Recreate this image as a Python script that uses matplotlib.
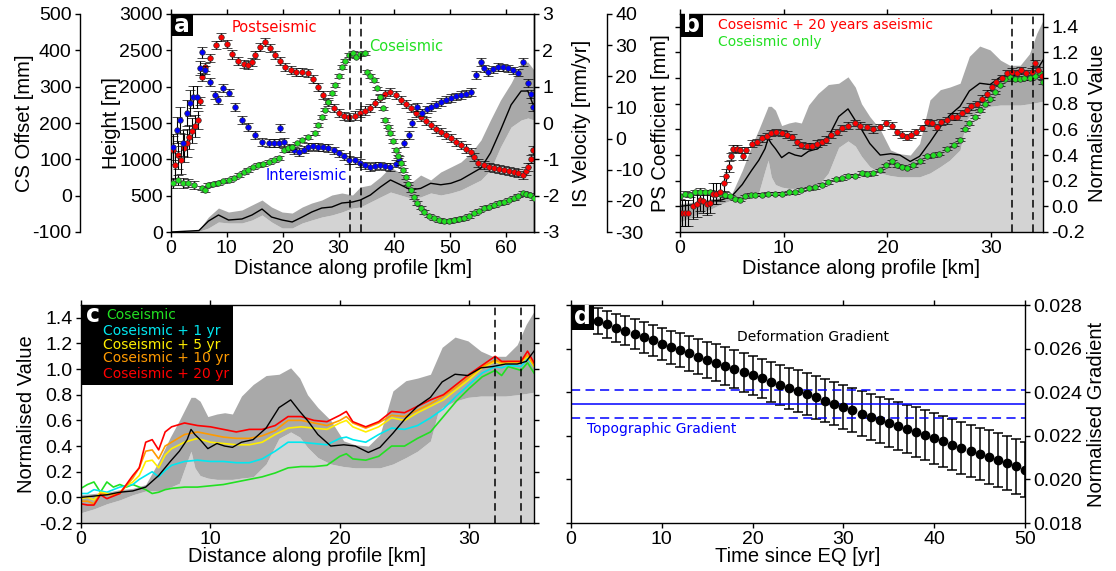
import matplotlib
matplotlib.use("Agg")
import matplotlib.pyplot as plt
from matplotlib.patches import Rectangle

plt.rcParams["font.family"] = ["Liberation Sans", "DejaVu Sans"]
plt.rcParams["font.size"] = 14.5
plt.rcParams["axes.unicode_minus"] = False
plt.rcParams["axes.linewidth"] = 1.0
plt.rcParams["axes.labelsize"] = 14.5
plt.rcParams["xtick.major.width"] = 1.0
plt.rcParams["ytick.major.width"] = 1.0
plt.rcParams["xtick.major.size"] = 3.5
plt.rcParams["ytick.major.size"] = 3.5
plt.rcParams["xtick.major.pad"] = 2.5
plt.rcParams["ytick.major.pad"] = 2.5
plt.rcParams["xtick.labelsize"] = 14
plt.rcParams["ytick.labelsize"] = 14

ANNOT = ["DejaVu Sans"]

# ---------------------------------------------------------------- colours
LIGHT = "#d3d3d3"
DARK = "#a9a9a9"
C_RED = "#ff0000"
C_BLUE = "#0000ff"
C_GREEN = "#22e022"
C_CYAN = "#00e8f0"
C_YELLOW = "#ffee00"
C_ORANGE = "#ff9a00"

# ---------------------------------------------------------------- panel a
# topography statistics along the 65 km profile [m]
a_topo_km = [0, 5, 6.7, 8.5, 10.3, 12.7, 14.5, 16.3, 18, 19.9,
             21.7, 23.5, 25.2, 27, 28.8, 30.6, 32.5, 33.9, 35.7, 37.5,
             39.3, 41.1, 42.9, 44.7, 46.5, 48.3, 50.1, 51.9, 53.7, 55.5,
             57.2, 59, 60.9, 62.7, 63.9, 65]
a_topo_mean = [0, 20, 150, 234, 165, 179, 234, 316, 206, 165,
               138, 206, 275, 330, 344, 399, 413, 440, 509, 619,
               716, 650, 580, 600, 670, 650, 670, 720, 800, 880,
               1087, 1400, 1750, 1940, 1940, 1720]
a_topo_hi = [0, 30, 206, 330, 275, 303, 372, 440, 344, 275,
             261, 344, 399, 440, 509, 537, 509, 619, 647, 757,
             894, 812, 674, 784, 716, 826, 894, 963, 1087, 1266,
             1541, 1816, 2050, 2325, 2339, 2229]
a_topo_lo = [0, 10, 55, 138, 124, 124, 165, 234, 138, 55,
             55, 124, 165, 206, 234, 275, 330, 344, 413, 482,
             550, 509, 468, 482, 537, 509, 537, 578, 647, 716,
             853, 1170, 1445, 1541, 1569, 1541]

# postseismic coefficient [mm]
a_ps_km = [0.3, 0.8, 1.3, 1.8, 2.3, 2.8, 3.3, 3.8, 4.3, 4.8,
           5.2, 5.6, 6.0, 7.0, 8.0, 9.0, 10.0, 11.0, 12.0, 13.0,
           13.8, 14.5, 15.1, 16.0, 16.9, 17.8, 18.7, 19.6, 20.5, 21.4,
           22.3, 23.5, 24.6, 25.5, 26.4, 27.3, 28.2, 29.1, 30.0, 30.9,
           31.8, 32.9, 33.9, 34.8, 35.7, 36.6, 37.5, 38.4, 39.3, 40.2,
           41.1, 42.0, 42.9, 43.8, 44.7, 45.6, 46.5, 47.4, 48.3, 49.2,
           50.1, 51.0, 51.9, 52.8, 53.7, 54.3, 54.9, 56.0, 57.0, 57.8,
           58.7, 59.6, 60.5, 61.4, 62.2, 63.0, 63.5, 63.9, 64.4, 64.8]
a_ps = [-3.7, -8.5, -5.3, -6.9, -3.0, -1.4, 0.5, 2.5, 4.0, 6.0,
        12.0, 19.8, 23.0, 26.0, 30.0, 32.5, 30.5, 27.0, 25.0, 24.0,
        23.6, 24.5, 26.8, 29.5, 31.1, 29.0, 26.8, 24.8, 23.0, 22.0,
        21.4, 21.5, 21.1, 19.0, 16.6, 14.0, 11.7, 9.8, 8.2, 7.2,
        6.9, 7.4, 8.2, 9.0, 9.8, 11.3, 13.0, 14.2, 15.0, 14.0,
        12.4, 11.0, 9.8, 8.3, 6.9, 5.6, 4.4, 3.2, 2.1, 1.1,
        0.2, -1.0, -2.1, -3.2, -4.3, -5.8, -7.8, -8.5, -9.0, -9.5,
        -9.8, -10.1, -10.4, -10.7, -11.0, -11.7, -10.5, -9.1, -6.5, -3.7]
a_ps_err = [4.5, 4.5, 4.5, 4.5, 4.5, 4.5, 4.0, 4.0, 3.5, 3.0] + [1.3] * 70

# interseismic velocity [mm/yr]
a_is_km = [0.4, 1.0, 1.6, 2.2, 2.8, 3.4, 4.0, 4.6, 5.2, 5.5,
           6.1, 7.0, 7.9, 8.5, 9.4, 10.3, 11.5, 12.7, 13.8, 15.1,
           16.3, 17.5, 18.4, 19.3, 19.6, 20.2, 21.1, 22.0, 22.9, 23.8,
           24.6, 25.5, 26.4, 27.3, 28.2, 29.1, 30.0, 30.9, 31.8, 32.9,
           33.9, 34.8, 35.7, 36.6, 37.5, 38.4, 39.3, 40.2, 40.8, 41.7,
           42.6, 43.2, 44.1, 45.0, 45.8, 46.5, 47.4, 48.3, 49.2, 50.1,
           51.0, 51.9, 52.8, 53.7, 54.6, 55.5, 56.1, 56.7, 57.6, 58.5,
           59.4, 60.3, 61.2, 62.1, 63.0, 63.9, 64.4, 64.8]
a_is = [-0.66, -0.19, 0.08, -0.55, 0.28, 0.55, 0.72, 0.72, 1.51, 1.95,
        1.46, 1.13, 0.77, 0.63, 0.96, 0.83, 0.44, 0.08, -0.11, -0.33,
        -0.52, -0.55, -0.55, -0.55, -0.14, -0.52, -0.69, -0.75, -0.80, -0.73,
        -0.66, -0.64, -0.66, -0.67, -0.69, -0.75, -0.83, -0.92, -1.02, -1.03,
        -1.10, -1.16, -1.21, -1.18, -1.16, -1.19, -1.21, -1.12, -1.02, -0.55,
        -0.33, 0.0, 0.44, 0.28, 0.38, 0.44, 0.50, 0.58, 0.64, 0.69,
        0.73, 0.77, 0.81, 0.85, 1.32, 1.68, 1.50, 1.40, 1.48, 1.54,
        1.53, 1.51, 1.45, 1.38, 1.68, 1.10, 0.80, 0.44]
a_is_err = [0.35, 0.35, 0.35, 0.35, 0.35, 0.35, 0.3, 0.3, 0.2, 0.15] + [0.1] * 68

# coseismic offset [mm]
a_cs_km = [0.4, 1.3, 2.2, 3.0, 4.2, 5.5, 6.1, 6.7, 7.6, 8.5,
           9.4, 10.3, 11.2, 12.1, 13.0, 13.8, 14.7, 15.6, 16.5, 17.5,
           18.4, 19.3, 20.2, 21.0, 21.7, 22.6, 23.5, 24.6, 25.8, 26.4,
           27.0, 27.6, 28.2, 28.8, 29.4, 30.0, 30.6, 31.2, 31.8, 32.5,
           33.2, 33.9, 34.8, 35.1, 35.7, 36.3, 36.9, 37.5, 38.0, 38.4,
           38.9, 39.3, 39.8, 40.2, 40.7, 41.1, 41.6, 42.0, 42.5, 42.9,
           43.5, 44.1, 44.7, 45.3, 46.2, 47.1, 48.0, 48.9, 49.8, 50.6,
           51.5, 52.4, 53.3, 54.2, 55.1, 56.0, 56.9, 57.8, 58.7, 59.6,
           60.5, 61.4, 62.2, 63.0, 63.6, 64.2, 65.0]
a_cs = [35, 43, 35, 35, 29, 21, 16, 29, 32, 35,
        39, 43, 50, 57, 64, 71, 78, 84, 88, 93,
        98, 104, 126, 130, 134, 144, 153, 161, 172, 195,
        216, 237, 258, 282, 305, 330, 354, 372, 387, 392,
        383, 390, 393, 340, 330, 318, 295, 272, 240, 208,
        190, 172, 150, 126, 108, 90, 70, 51, 33, 16,
        -3, -20, -33, -45, -55, -62, -67, -70, -69, -67,
        -65, -62, -56, -48, -41, -34, -30, -26, -21, -17,
        -11, -6, 0, 7, 5, 2, -6]
a_cs_err = [15, 15, 15, 12, 10] + [5] * 82

# ---------------------------------------------------------------- panels b & c
# normalised topography statistics along the first 35 km
bc_topo_km = [0, 1, 2, 3, 4, 5, 6, 6.9, 7.6, 8.2,
              8.5, 8.8, 9.2, 9.8, 10.5, 11.1, 11.7, 12.4, 13.3, 14.3,
              15.3, 16.2, 16.9, 17.5, 18.3, 19.3, 20.3, 21.2, 22.2, 23.1,
              24.1, 25.1, 26.0, 27.0, 27.6, 27.9, 28.9, 29.9, 30.9, 31.8,
              32.8, 33.7, 34.4, 35.0]
bc_topo_mean = [0.00, 0.01, 0.02, 0.04, 0.05, 0.08, 0.17, 0.28, 0.36, 0.45,
                0.53, 0.49, 0.45, 0.38, 0.42, 0.40, 0.39, 0.43, 0.45, 0.54,
                0.70, 0.76, 0.67, 0.60, 0.49, 0.40, 0.41, 0.40, 0.35, 0.39,
                0.50, 0.62, 0.71, 0.78, 0.86, 0.90, 0.96, 0.95, 1.01, 1.02,
                1.04, 1.04, 1.06, 1.14]
bc_topo_hi = [0.02, 0.03, 0.04, 0.06, 0.07, 0.10, 0.28, 0.47, 0.60, 0.72,
              0.78, 0.78, 0.75, 0.63, 0.65, 0.66, 0.65, 0.79, 0.88, 0.95,
              0.96, 1.01, 0.93, 0.80, 0.70, 0.60, 0.44, 0.41, 0.40, 0.49,
              0.83, 0.91, 0.93, 0.96, 1.10, 1.17, 1.25, 1.22, 1.14, 1.10,
              1.10, 1.19, 1.35, 1.45]
bc_topo_lo = [-0.12, -0.09, -0.05, -0.02, 0.02, 0.05, 0.05, 0.08, 0.11, 0.28,
              0.36, 0.23, 0.17, 0.15, 0.14, 0.14, 0.14, 0.15, 0.16, 0.26,
              0.46, 0.51, 0.47, 0.39, 0.31, 0.26, 0.24, 0.23, 0.23, 0.23,
              0.26, 0.31, 0.36, 0.44, 0.67, 0.70, 0.75, 0.78, 0.79, 0.79,
              0.79, 0.80, 0.81, 0.82]

# panel b: coseismic + 20 years aseismic
b_red_km = [0.2, 0.5, 0.8, 1.3, 1.6, 1.9, 2.25, 2.6, 2.9, 3.2,
            3.5, 3.9, 4.2, 4.4, 4.7, 4.9, 5.1, 5.5, 5.8, 6.1,
            6.4, 6.9, 7.4, 7.9, 8.4, 8.8, 9.3, 9.8, 10.3, 10.8,
            11.3, 11.7, 12.2, 12.7, 13.2, 13.7, 14.1, 14.6, 15.1, 15.6,
            16.2, 16.9, 17.4, 18.0, 18.6, 19.3, 19.9, 20.4, 20.9, 21.4,
            21.9, 22.3, 22.8, 23.3, 23.8, 24.3, 24.8, 25.2, 25.7, 26.2,
            26.7, 27.2, 27.7, 28.1, 28.6, 29.1, 29.6, 30.1, 30.5, 31.0,
            31.5, 32.0, 32.5, 32.9, 33.4, 33.9, 34.2, 34.5, 34.9]
b_red = [-0.05, -0.05, -0.05, 0.00, 0.02, 0.05, 0.04, 0.02, 0.03, 0.10,
         0.10, 0.11, 0.18, 0.24, 0.31, 0.39, 0.45, 0.45, 0.44, 0.39,
         0.44, 0.49, 0.50, 0.53, 0.55, 0.57, 0.58, 0.57, 0.56, 0.54,
         0.50, 0.48, 0.47, 0.47, 0.49, 0.50, 0.52, 0.56, 0.58, 0.61,
         0.63, 0.65, 0.63, 0.62, 0.60, 0.62, 0.65, 0.63, 0.58, 0.56,
         0.54, 0.56, 0.58, 0.61, 0.66, 0.65, 0.62, 0.66, 0.67, 0.70,
         0.70, 0.73, 0.75, 0.78, 0.80, 0.84, 0.88, 0.93, 0.97, 1.00,
         1.04, 1.05, 1.04, 1.06, 1.04, 1.05, 1.12, 1.06, 1.02]
b_red_err = [0.10, 0.10, 0.10, 0.10, 0.10, 0.09, 0.09, 0.09, 0.08, 0.08,
             0.08, 0.07, 0.06, 0.05, 0.04] + [0.025] * 64

# panel b: coseismic only
b_green_km = [0, 0.5, 1, 1.4, 1.9, 2.4, 2.9, 3.4, 3.9, 4.3,
              4.8, 5.3, 5.8, 6.3, 6.8, 7.2, 7.9, 8.5, 9.2, 9.8,
              10.5, 11.1, 11.7, 12.4, 13.0, 13.7, 14.3, 15.0, 15.6, 16.2,
              16.9, 17.5, 18.0, 18.6, 19.3, 19.9, 20.4, 20.9, 21.4, 21.9,
              22.5, 23.1, 23.8, 24.4, 25.0, 25.7, 26.4, 27.0, 27.5, 27.9,
              28.4, 28.9, 29.4, 29.9, 30.4, 30.9, 31.3, 31.8, 32.3, 32.8,
              33.2, 33.7, 34.2, 34.7, 35.0]
b_green = [0.08, 0.10, 0.09, 0.11, 0.11, 0.11, 0.11, 0.10, 0.10, 0.09,
           0.08, 0.06, 0.05, 0.08, 0.09, 0.09, 0.09, 0.10, 0.10, 0.10,
           0.11, 0.11, 0.13, 0.14, 0.15, 0.17, 0.19, 0.21, 0.22, 0.24,
           0.24, 0.26, 0.25, 0.26, 0.28, 0.32, 0.35, 0.32, 0.31, 0.30,
           0.32, 0.35, 0.39, 0.40, 0.41, 0.45, 0.48, 0.52, 0.60, 0.65,
           0.70, 0.75, 0.80, 0.84, 0.89, 0.95, 0.99, 1.01, 0.99, 0.99,
           1.00, 1.00, 1.02, 1.04, 0.97]
b_green_err = [0.02] * 10 + [0.012] * 55

# panel c: normalised deformation for several time spans
c_km = [0, 0.5, 1, 1.5, 2, 2.5, 3, 3.5, 4, 4.5,
        5, 5.5, 6, 6.5, 7, 8, 9, 10, 11, 12,
        13, 14, 15, 16, 17, 18, 19, 20, 20.5, 21,
        22, 23, 24, 25, 26, 27, 28, 29, 30, 31,
        32, 32.5, 33, 34, 34.5, 35]
c_cos = [0.07, 0.10, 0.12, 0.04, 0.12, 0.08, 0.10, 0.08, 0.10, 0.08,
         0.06, 0.03, 0.04, 0.06, 0.07, 0.08, 0.08, 0.09, 0.10, 0.12,
         0.14, 0.16, 0.19, 0.23, 0.24, 0.24, 0.25, 0.32, 0.34, 0.30,
         0.29, 0.32, 0.40, 0.40, 0.46, 0.51, 0.63, 0.75, 0.85, 0.94,
         0.99, 0.95, 1.02, 0.99, 1.05, 0.97]
c_1yr = [0.03, 0.03, 0.06, 0.05, 0.04, 0.06, 0.08, 0.09, 0.10, 0.14,
         0.17, 0.20, 0.16, 0.21, 0.25, 0.28, 0.29, 0.28, 0.28, 0.27,
         0.27, 0.30, 0.36, 0.43, 0.43, 0.42, 0.41, 0.46, 0.47, 0.45,
         0.43, 0.49, 0.54, 0.53, 0.56, 0.62, 0.69, 0.79, 0.88, 0.97,
         1.02, 1.01, 1.03, 1.02, 1.08, 1.02]
c_5yr = [-0.01, 0.00, -0.02, 0.04, 0.03, 0.02, 0.04, 0.09, 0.12, 0.17,
         0.28, 0.29, 0.23, 0.33, 0.38, 0.43, 0.46, 0.43, 0.42, 0.41,
         0.41, 0.43, 0.49, 0.54, 0.55, 0.54, 0.53, 0.58, 0.60, 0.55,
         0.51, 0.55, 0.62, 0.60, 0.66, 0.71, 0.76, 0.84, 0.92, 1.01,
         1.06, 1.04, 1.05, 1.05, 1.10, 1.02]
c_10yr = [-0.03, -0.03, -0.05, 0.03, 0.02, 0.02, 0.03, 0.09, 0.15, 0.23,
          0.36, 0.37, 0.30, 0.40, 0.43, 0.49, 0.51, 0.49, 0.47, 0.46,
          0.46, 0.48, 0.52, 0.60, 0.60, 0.58, 0.56, 0.60, 0.63, 0.58,
          0.54, 0.58, 0.64, 0.63, 0.68, 0.73, 0.79, 0.86, 0.94, 1.02,
          1.07, 1.05, 1.06, 1.06, 1.11, 1.03]
c_20yr = [-0.05, -0.06, -0.06, 0.02, -0.01, 0.01, 0.03, 0.10, 0.17, 0.23,
          0.43, 0.45, 0.37, 0.51, 0.55, 0.58, 0.56, 0.55, 0.53, 0.51,
          0.53, 0.53, 0.56, 0.63, 0.63, 0.60, 0.59, 0.64, 0.67, 0.59,
          0.55, 0.59, 0.67, 0.66, 0.71, 0.76, 0.80, 0.88, 0.96, 1.03,
          1.10, 1.06, 1.06, 1.06, 1.14, 1.05]

fault_km = [32, 34]

# ---------------------------------------------------------------- panel d
d_years = list(range(3, 51))
d_grad = [0.02727, 0.02711, 0.02696, 0.02682, 0.02667, 0.02652, 0.02638, 0.02622,
          0.02607, 0.02594, 0.02578, 0.02563, 0.02549, 0.02535, 0.02520, 0.02506,
          0.02491, 0.02477, 0.02463, 0.02448, 0.02434, 0.02419, 0.02405, 0.02390,
          0.02376, 0.02361, 0.02347, 0.02333, 0.02318, 0.02302, 0.02287, 0.02273,
          0.02259, 0.02244, 0.02231, 0.02217, 0.02202, 0.02188, 0.02174, 0.02160,
          0.02145, 0.02131, 0.02117, 0.02103, 0.02089, 0.02074, 0.02060, 0.02045]
d_err = [0.00061, 0.00063, 0.00065, 0.00067, 0.00069, 0.00071, 0.00072, 0.00074,
         0.00076, 0.00078, 0.00079, 0.00081, 0.00083, 0.00084, 0.00086, 0.00087,
         0.00089, 0.00090, 0.00091, 0.00092, 0.00093, 0.00094, 0.00095, 0.00096,
         0.00097, 0.00098, 0.00099, 0.00100, 0.00102, 0.00104, 0.00105, 0.00107,
         0.00109, 0.00110, 0.00112, 0.00113, 0.00115, 0.00116, 0.00117, 0.00118,
         0.00119, 0.00120, 0.00121, 0.00122, 0.00123, 0.00124, 0.00125, 0.00126]
topo_grad = 0.02346
topo_grad_err = 0.00066

# ---------------------------------------------------------------- figure
W, H = 1116, 571
fig = plt.figure(figsize=(W / 100, H / 100), dpi=100)


def box(left, top, right, bottom):
    return [left / W, 1 - bottom / H, (right - left) / W, (bottom - top) / H]


def panel_tag(ax, letter, wpx, hpx):
    bb = ax.get_position()
    w = wpx / (bb.width * W)
    h = hpx / (bb.height * H)
    ax.add_patch(Rectangle((0, 1 - h), w, h, transform=ax.transAxes,
                           facecolor="black", edgecolor="none", zorder=20,
                           clip_on=False))
    ax.text(w / 2, 1 - h / 2, letter, transform=ax.transAxes, color="white",
            fontsize=17, fontweight="bold", ha="center", va="center",
            family=ANNOT, zorder=21)


def only_spine(ax, name):
    for s in ("left", "right", "top", "bottom"):
        ax.spines[s].set_visible(s == name)


EB = dict(fmt="o", ms=4, mew=0.5, mec="#333333", ecolor="black",
          elinewidth=0.8, capsize=3.5, capthick=0.8)
DASH = dict(color="black", lw=1.1, ls=(0, (5, 3)), zorder=10)

# ---- panel a
ax_a = fig.add_axes(box(171, 14, 534, 232))
ax_a.fill_between(a_topo_km, 0, a_topo_lo, color=LIGHT, lw=0)
ax_a.fill_between(a_topo_km, a_topo_lo, a_topo_hi, color=DARK, lw=0)
ax_a.plot(a_topo_km, a_topo_mean, color="black", lw=1)
ax_a.set_xlim(0, 65)
ax_a.set_ylim(0, 3000)
ax_a.set_xticks(range(0, 61, 10))
ax_a.set_yticks(range(0, 3001, 500))
ax_a.set_ylabel("Height [m]", labelpad=-1)
ax_a.set_xlabel("Distance along profile [km]", labelpad=1)
ax_a.tick_params(axis="x", top=True)
ax_a.tick_params(axis="y", right=False)

ax_ps = ax_a.twinx()
only_spine(ax_ps, "right")
ax_ps.spines["right"].set_position(("axes", 1 + 73 / 363))
ax_ps.set_ylim(-30, 40)
ax_ps.set_yticks(range(-30, 41, 10))
ax_ps.set_ylabel("PS Coefficient [mm]", labelpad=5)
ax_ps.errorbar(a_ps_km, a_ps, yerr=a_ps_err, color=C_RED, **EB)

ax_is = ax_a.twinx()
only_spine(ax_is, "right")
ax_is.set_ylim(-3, 3)
ax_is.set_yticks(range(-3, 4))
ax_is.set_ylabel("IS Velocity [mm/yr]", labelpad=9)
ax_is.errorbar(a_is_km, a_is, yerr=a_is_err, color=C_BLUE, **EB)

ax_cs = ax_a.twinx()
only_spine(ax_cs, "left")
ax_cs.spines["left"].set_position(("axes", -91 / 363))
ax_cs.yaxis.set_ticks_position("left")
ax_cs.yaxis.set_label_position("left")
ax_cs.set_ylim(-100, 500)
ax_cs.set_yticks(range(-100, 501, 100))
ax_cs.set_ylabel("CS Offset [mm]", labelpad=-1)
ax_cs.errorbar(a_cs_km, a_cs, yerr=a_cs_err, color=C_GREEN, **EB)
for xf in fault_km:
    ax_cs.axvline(xf, **DASH)

ax_cs.text(0.286, 0.936, "Postseismic", transform=ax_cs.transAxes,
           color=C_RED, fontsize=10.5, ha="center", va="center", family=ANNOT)
ax_cs.text(0.648, 0.853, "Coseismic", transform=ax_cs.transAxes,
           color=C_GREEN, fontsize=10.5, ha="center", va="center", family=ANNOT)
ax_cs.text(0.372, 0.261, "Intereismic", transform=ax_cs.transAxes,
           color=C_BLUE, fontsize=10.5, ha="center", va="center", family=ANNOT)
panel_tag(ax_cs, "a", 22, 22)

# ---- panel b
ax_b = fig.add_axes(box(680, 14, 1043, 232))
ax_b.fill_between(bc_topo_km, -0.2, bc_topo_lo, color=LIGHT, lw=0)
ax_b.fill_between(bc_topo_km, bc_topo_lo, bc_topo_hi, color=DARK, lw=0)
ax_b.plot(bc_topo_km, bc_topo_mean, color="black", lw=1)
ax_b.errorbar(b_green_km, b_green, yerr=b_green_err, color=C_GREEN, **EB)
ax_b.errorbar(b_red_km, b_red, yerr=b_red_err, color=C_RED, **EB)
for xf in fault_km:
    ax_b.axvline(xf, **DASH)
ax_b.set_xlim(0, 35)
ax_b.set_ylim(-0.2, 1.5)
ax_b.set_xticks([0, 10, 20, 30])
ax_b.set_yticks([-0.2, 0.0, 0.2, 0.4, 0.6, 0.8, 1.0, 1.2, 1.4])
ax_b.yaxis.set_major_formatter(plt.FormatStrFormatter("%.1f"))
ax_b.tick_params(axis="x", top=True)
ax_b.tick_params(axis="y", left=True, right=True, labelleft=False,
                 labelright=True)
ax_b.yaxis.set_label_position("right")
ax_b.set_ylabel("Normalised Value", labelpad=2)
ax_b.set_xlabel("Distance along profile [km]", labelpad=1)
ax_b.text(0.105, 0.950, "Coseismic + 20 years aseismic",
          transform=ax_b.transAxes, color=C_RED, fontsize=10,
          ha="left", va="center", family=ANNOT, zorder=15)
ax_b.text(0.105, 0.872, "Coseismic only", transform=ax_b.transAxes,
          color=C_GREEN, fontsize=10, ha="left", va="center", family=ANNOT,
          zorder=15)
panel_tag(ax_b, "b", 23, 23)

# ---- panel c
ax_c = fig.add_axes(box(81, 305, 534, 523))
ax_c.fill_between(bc_topo_km, -0.2, bc_topo_lo, color=LIGHT, lw=0)
ax_c.fill_between(bc_topo_km, bc_topo_lo, bc_topo_hi, color=DARK, lw=0)
series_c = [(c_cos, C_GREEN), (c_1yr, C_CYAN), (c_5yr, C_YELLOW),
            (c_10yr, C_ORANGE), (c_20yr, C_RED)]
for vals, col in series_c:
    ax_c.plot(c_km, vals, color=col, lw=1.2)
ax_c.plot(bc_topo_km, bc_topo_mean, color="black", lw=1)
for xf in fault_km:
    ax_c.axvline(xf, **DASH)
ax_c.set_xlim(0, 35)
ax_c.set_ylim(-0.2, 1.5)
ax_c.set_xticks([0, 10, 20, 30])
ax_c.set_yticks([-0.2, 0.0, 0.2, 0.4, 0.6, 0.8, 1.0, 1.2, 1.4])
ax_c.yaxis.set_major_formatter(plt.FormatStrFormatter("%.1f"))
ax_c.tick_params(axis="x", top=True)
ax_c.tick_params(axis="y", right=True)
ax_c.set_ylabel("Normalised Value", labelpad=2)
ax_c.set_xlabel("Distance along profile [km]", labelpad=-1)

bbc = ax_c.get_position()
lw_ax = (233 - 81) / (bbc.width * W)
lh_ax = (385 - 305) / (bbc.height * H)
ax_c.add_patch(Rectangle((0, 1 - lh_ax), lw_ax, lh_ax, transform=ax_c.transAxes,
                         facecolor="black", edgecolor="none", zorder=20))
ax_c.text(0.027, 0.952, "c", transform=ax_c.transAxes, color="white",
          fontsize=17, fontweight="bold", ha="center", va="center",
          family=ANNOT, zorder=21)
legend_c = [("Coseismic", C_GREEN, 0.055, 0.954),
            ("Coseismic + 1 yr", C_CYAN, 0.049, 0.881),
            ("Coseismic + 5 yr", C_YELLOW, 0.049, 0.817),
            ("Coseismic + 10 yr", C_ORANGE, 0.049, 0.757),
            ("Coseismic + 20 yr", C_RED, 0.049, 0.683)]
for label, col, tx, ty in legend_c:
    ax_c.text(tx, ty, label, transform=ax_c.transAxes, color=col,
              fontsize=10, ha="left", va="center", family=ANNOT, zorder=21)

# ---- panel d
ax_d = fig.add_axes(box(571, 305, 1025, 523))
ax_d.errorbar(d_years, d_grad, yerr=d_err, fmt="o", color="black", ms=6,
              ecolor="black", elinewidth=1.1, capsize=3.5, capthick=1.1)
ax_d.axhline(topo_grad, color=C_BLUE, lw=1.1)
ax_d.axhline(topo_grad + topo_grad_err, color=C_BLUE, lw=1.1, ls=(0, (6, 3.5)))
ax_d.axhline(topo_grad - topo_grad_err, color=C_BLUE, lw=1.1, ls=(0, (6, 3.5)))
ax_d.set_xlim(0, 50)
ax_d.set_ylim(0.018, 0.028)
ax_d.set_xticks(range(0, 51, 10))
ax_d.set_yticks([0.018, 0.020, 0.022, 0.024, 0.026, 0.028])
ax_d.yaxis.set_major_formatter(plt.FormatStrFormatter("%.3f"))
ax_d.tick_params(axis="x", top=True)
ax_d.tick_params(axis="y", left=True, right=True, labelleft=False,
                 labelright=True)
ax_d.yaxis.set_label_position("right")
ax_d.set_ylabel("Normalised Gradient", labelpad=3)
ax_d.set_xlabel("Time since EQ [yr]", labelpad=-1)
ax_d.text(0.533, 0.853, "Deformation Gradient", transform=ax_d.transAxes,
          color="black", fontsize=10, ha="center", va="center", family=ANNOT)
ax_d.text(0.035, 0.431, "Topographic Gradient", transform=ax_d.transAxes,
          color=C_BLUE, fontsize=10, ha="left", va="center", family=ANNOT)
panel_tag(ax_d, "d", 23, 25)

fig.savefig("out.png", dpi=100)
